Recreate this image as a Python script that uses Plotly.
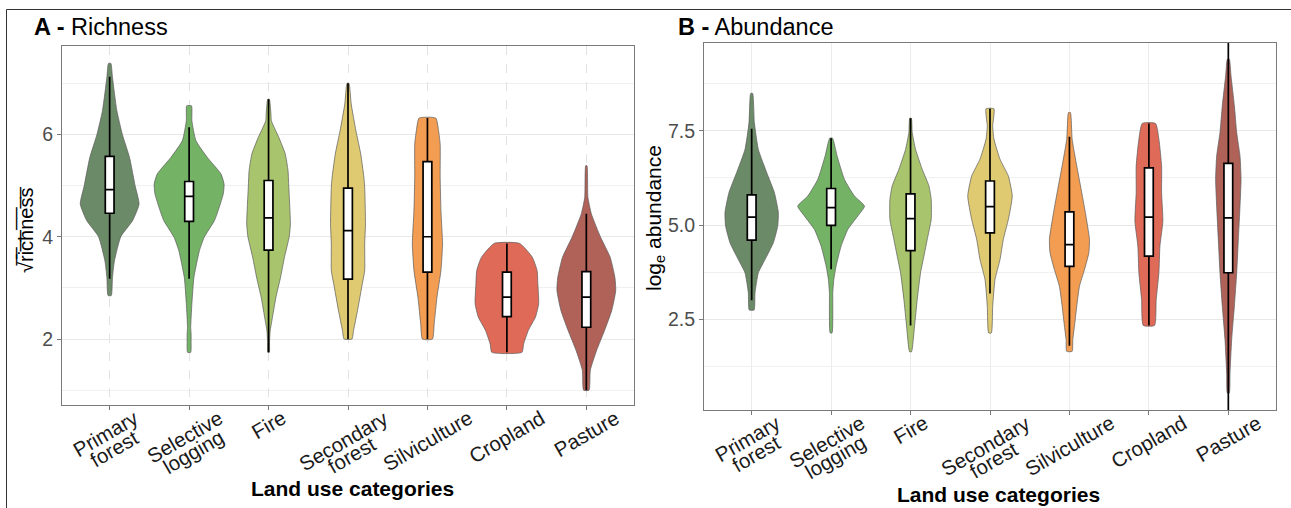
import math
import plotly.graph_objects as go

W, H = 1291, 508

categories = [["Primary", "forest"], ["Selective", "logging"], ["Fire"], ["Secondary", "forest"],
              ["Silviculture"], ["Cropland"], ["Pasture"]]
colors = ["#6b8a67", "#74b266", "#a8c46c", "#dfca72", "#f29d52", "#e06a58", "#b06259"]

# ---- Panel A: sqrt richness — violin profiles (value, half-width in category units)
rich_violin_y = [
    [7.39, 7.12, 6.47, 6.0, 5.55, 5.0, 4.64, 4.32, 4.0, 3.53, 3.2, 2.85],
    [6.56, 6.27, 5.88, 5.55, 5.23, 5.03, 4.84, 4.58, 4.32, 3.99, 3.73, 3.2, 2.69, 2.23, 2.1, 1.95, 1.74],
    [6.69, 6.4, 6.27, 5.94, 5.62, 5.29, 4.97, 4.25, 4.0, 3.6, 3.2, 2.82, 2.36, 2.17, 1.95, 1.74],
    [7.0, 6.6, 6.07, 5.62, 5.16, 4.97, 4.25, 3.86, 3.34, 3.08, 2.56, 2.17, 2.0],
    [6.32, 6.07, 5.81, 5.16, 4.51, 3.86, 3.34, 2.82, 2.3, 2.0],
    [3.87, 3.6, 3.34, 3.08, 2.69, 2.43, 2.17, 1.9, 1.74],
    [5.39, 4.77, 4.45, 3.99, 3.6, 3.2, 2.95, 2.56, 2.17, 1.78, 1.39, 1.0],
]
rich_violin_w = [
    [0.015, 0.035, 0.09, 0.16, 0.25, 0.32, 0.37, 0.29, 0.14, 0.06, 0.035, 0.02],
    [0.03, 0.035, 0.085, 0.23, 0.40, 0.44, 0.43, 0.38, 0.32, 0.19, 0.13, 0.06, 0.035, 0.02, 0.025, 0.025, 0.02],
    [0.01, 0.03, 0.035, 0.13, 0.21, 0.245, 0.255, 0.275, 0.26, 0.2, 0.15, 0.093, 0.042, 0.021, 0.012, 0.01],
    [0.012, 0.04, 0.1, 0.16, 0.2, 0.21, 0.22, 0.21, 0.21, 0.18, 0.12, 0.07, 0.05],
    [0.105, 0.14, 0.16, 0.16, 0.17, 0.19, 0.17, 0.12, 0.085, 0.063],
    [0.16, 0.32, 0.38, 0.39, 0.40, 0.36, 0.27, 0.21, 0.19],
    [0.008, 0.02, 0.063, 0.18, 0.3, 0.36, 0.37, 0.32, 0.23, 0.13, 0.05, 0.034],
]
rich_q1 = [4.46, 4.30, 3.74, 3.17, 3.31, 2.44, 2.23]
rich_med = [4.92, 4.79, 4.37, 4.12, 4.0, 2.82, 2.82]
rich_q3 = [5.57, 5.08, 5.10, 4.95, 5.47, 3.31, 3.32]
rich_lo = [3.18, 3.18, 1.74, 2.0, 2.0, 1.74, 1.0]
rich_hi = [7.13, 6.14, 6.69, 7.0, 6.32, 3.87, 4.45]

# ---- Panel B: log abundance
abun_violin_y = [
    [8.5, 7.72, 7.01, 6.39, 5.86, 5.33, 4.97, 4.53, 4.08, 3.73, 3.2, 2.74],
    [7.31, 6.83, 6.21, 5.77, 5.50, 5.24, 4.88, 4.44, 3.91, 3.55, 3.2, 2.84, 2.13],
    [7.84, 7.46, 7.01, 6.48, 6.04, 5.68, 5.15, 4.62, 4.17, 3.73, 3.02, 2.31, 1.63],
    [8.09, 7.63, 7.28, 6.75, 6.30, 5.77, 5.15, 4.62, 4.08, 3.55, 2.84, 2.13],
    [7.99, 7.28, 6.57, 5.95, 5.33, 4.62, 4.26, 3.82, 3.37, 2.84, 2.31, 1.95, 1.64],
    [7.70, 7.28, 6.57, 5.86, 5.10, 4.44, 3.73, 3.02, 2.33],
    [9.41, 8.96, 8.17, 7.46, 6.83, 6.21, 5.50, 4.62, 3.73, 2.84, 1.95, 1.06, 0.53],
]
abun_violin_w = [
    [0.012, 0.034, 0.084, 0.19, 0.286, 0.336, 0.328, 0.273, 0.168, 0.084, 0.042, 0.03],
    [0.017, 0.076, 0.168, 0.294, 0.42, 0.336, 0.21, 0.126, 0.063, 0.034, 0.021, 0.021, 0.012],
    [0.01, 0.021, 0.063, 0.147, 0.231, 0.26, 0.26, 0.21, 0.168, 0.126, 0.084, 0.05, 0.012],
    [0.05, 0.034, 0.05, 0.126, 0.231, 0.28, 0.231, 0.168, 0.126, 0.063, 0.034, 0.017],
    [0.012, 0.034, 0.092, 0.147, 0.2, 0.252, 0.244, 0.19, 0.126, 0.092, 0.063, 0.042, 0.034],
    [0.084, 0.126, 0.16, 0.16, 0.176, 0.139, 0.126, 0.092, 0.071],
    [0.012, 0.034, 0.076, 0.105, 0.147, 0.16, 0.147, 0.126, 0.105, 0.076, 0.042, 0.021, 0.012],
]
abun_q1 = [4.60, 4.99, 4.32, 4.79, 3.90, 4.17, 3.73]
abun_med = [5.21, 5.46, 5.17, 5.49, 4.48, 5.21, 5.19]
abun_q3 = [5.80, 5.97, 5.83, 6.17, 5.35, 6.52, 6.64]
abun_lo = [3.0, 3.82, 2.33, 3.18, 1.79, 2.33, 0.0]
abun_hi = [7.56, 7.31, 7.84, 8.09, 7.35, 7.70, 9.95]

FONT = "Liberation Sans, Arial, Helvetica, sans-serif"
fig = go.Figure()


def add_panel(xa, ya, xb, yb, vy, vw, q1, med, q3, lo, hi):
    for i in range(len(categories)):
        ys = vy[i]
        ws = vw[i]
        xs = [i + w for w in ws] + [i - w for w in reversed(ws)] + [i + ws[0]]
        yy = list(ys) + list(reversed(ys)) + [ys[0]]
        fig.add_trace(go.Scatter(
            x=xs, y=yy, mode="lines", fill="toself", fillcolor=colors[i],
            line=dict(color="#5a5a5a", width=0.7, shape="spline", smoothing=0.5),
            xaxis=xa, yaxis=ya, showlegend=False, hoverinfo="skip"))
    # boxes on an overlaying subplot so they sit above the violins
    for i in range(len(categories)):
        fig.add_trace(go.Box(
            x=[i], q1=[q1[i]], median=[med[i]], q3=[q3[i]],
            lowerfence=[lo[i]], upperfence=[hi[i]],
            width=0.11, whiskerwidth=0, fillcolor="white",
            line=dict(color="black", width=1.7), boxpoints=False,
            xaxis=xb, yaxis=yb, showlegend=False, hoverinfo="skip"))


add_panel("x", "y", "x3", "y3", rich_violin_y, rich_violin_w,
          rich_q1, rich_med, rich_q3, rich_lo, rich_hi)
add_panel("x2", "y2", "x4", "y4", abun_violin_y, abun_violin_w,
          abun_q1, abun_med, abun_q3, abun_lo, abun_hi)


def px_x(p):
    return p / W


def px_y(p):
    return 1 - p / H


XR = [-0.6, 6.6]
YR_A = [0.71, 7.73]
YR_B = [0.08, 9.84]
DOM_XA = [px_x(62), px_x(634)]
DOM_YA = [px_y(405), px_y(46)]
DOM_XB = [px_x(704), px_x(1276)]
DOM_YB = [px_y(410), px_y(43)]

xcommon = dict(
    range=XR, tickmode="array", tickvals=list(range(len(categories))),
    showticklabels=False, showline=True, mirror=True,
    linecolor="#7a7a7a", linewidth=1, ticks="outside", ticklen=4,
    tickcolor="#7a7a7a", zeroline=False, showgrid=True,
)
ycommon = dict(
    showline=True, mirror=True, linecolor="#7a7a7a", linewidth=1,
    ticks="outside", ticklen=4, tickcolor="#7a7a7a", zeroline=False,
    tickfont=dict(family=FONT, size=19.5, color="#4d4d4d"),
    showgrid=True, gridcolor="#e8e8e8", gridwidth=1,
)
hidden = dict(visible=False, showgrid=False, zeroline=False, fixedrange=True)

fig.update_layout(
    width=W, height=H, margin=dict(l=0, r=0, t=0, b=0, autoexpand=False),
    paper_bgcolor="white", plot_bgcolor="white", boxmode="overlay",
    font=dict(family=FONT),
    xaxis=dict(domain=DOM_XA, anchor="y", griddash="dash",
               gridcolor="#e2e2e2", gridwidth=1, **xcommon),
    yaxis=dict(domain=DOM_YA, anchor="x", range=YR_A,
               tickmode="array", tickvals=[2, 4, 6],
               minor=dict(tickvals=[1, 3, 5, 7], showgrid=True, gridcolor="#f0f0f0",
                          gridwidth=0.8, ticks=""),
               **ycommon),
    xaxis2=dict(domain=DOM_XB, anchor="y2",
                gridcolor="#ececec", gridwidth=1, **xcommon),
    yaxis2=dict(domain=DOM_YB, anchor="x2", range=YR_B,
                tickmode="array", tickvals=[2.5, 5.0, 7.5], ticktext=["2.5", "5.0", "7.5"],
                minor=dict(tickvals=[1.25, 3.75, 6.25, 8.75], showgrid=True,
                           gridcolor="#f0f0f0", gridwidth=0.8, ticks=""),
                **ycommon),
    xaxis3=dict(domain=DOM_XA, anchor="y3", overlaying="x", range=XR, **hidden),
    yaxis3=dict(domain=DOM_YA, anchor="x3", overlaying="y", range=YR_A, **hidden),
    xaxis4=dict(domain=DOM_XB, anchor="y4", overlaying="x2", range=XR, **hidden),
    yaxis4=dict(domain=DOM_YB, anchor="x4", overlaying="y2", range=YR_B, **hidden),
)

annos = [
    dict(text="<b>A -</b> Richness", x=px_x(32), y=px_y(27), xanchor="left", yanchor="middle",
         font=dict(size=23.5, color="black")),
    dict(text="<b>B -</b> Abundance", x=px_x(676), y=px_y(27), xanchor="left", yanchor="middle",
         font=dict(size=23.5, color="black")),
    dict(text="<b>Land use categories</b>", x=px_x(352), y=px_y(488), xanchor="center",
         yanchor="middle", font=dict(size=21, color="black")),
    dict(text="<b>Land use categories</b>", x=px_x(998), y=px_y(494), xanchor="center",
         yanchor="middle", font=dict(size=21, color="black")),
    dict(text="\u221ar\u0305i\u0305c\u0305h\u0305n\u0305e\u0305s\u0305s\u0305", x=px_x(26), y=px_y(230),
         textangle=-90, xanchor="center", yanchor="middle", font=dict(size=20, color="black")),
    dict(text="log<sub>e</sub> abundance", x=px_x(655), y=px_y(218), textangle=-90,
         xanchor="center", yanchor="middle", font=dict(size=21, color="black")),
]

# ---- rotated category labels (centred under each tick, tight two-line spacing)
TICK_FS = 20.5
ANG = 30.0
LINE_GAP = 17.0
GLYPH_H = 20.0
ARIAL_W = dict(P=667, r=333, i=222, m=833, a=556, y=500, f=278, o=556, e=556, s=500,
               t=278, S=667, l=222, c=500, v=500, g=556, n=556, F=611, d=556, u=556,
               h=556, C=722, p=556)


def text_w(s):
    return sum(ARIAL_W.get(ch, 556) for ch in s) * TICK_FS / 1000.0


sa, ca = math.sin(math.radians(ANG)), math.cos(math.radians(ANG))
for xref, top in (("x", 407.0), ("x2", 412.0)):
    for i, lines in enumerate(categories):
        n = len(lines)
        wmax = max(text_w(s) for s in lines)
        block_h = GLYPH_H + (n - 1) * LINE_GAP
        cy = top + (wmax * sa + block_h * ca) / 2.0
        for k, s in enumerate(lines):
            off = (k - (n - 1) / 2.0) * LINE_GAP
            annos.append(dict(text=s, x=i, xref=xref, y=px_y(cy), textangle=-ANG,
                              xanchor="center", yanchor="middle",
                              xshift=off * sa, yshift=-off * ca,
                              font=dict(size=TICK_FS, color="#1a1a1a")))

for a in annos:
    a.setdefault("xref", "paper")
    a.update(yref="paper", showarrow=False)
fig.update_layout(annotations=annos)

fig.add_shape(type="rect", xref="paper", yref="paper", x0=px_x(6.5), x1=1.05,
              y0=-0.05, y1=px_y(9.5), line=dict(color="#333333", width=1))

fig.write_html("out.html", config={"displayModeBar": False},
               post_script="document.body.style.margin='0px';document.body.style.overflow='hidden';")
